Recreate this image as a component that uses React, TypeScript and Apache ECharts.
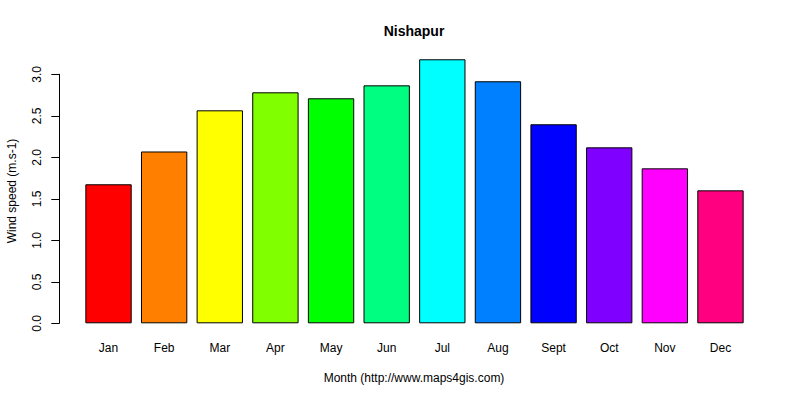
import React, { useEffect, useRef } from "react";
import * as echarts from "echarts";

const months = ["Jan", "Feb", "Mar", "Apr", "May", "Jun", "Jul", "Aug", "Sept", "Oct", "Nov", "Dec"];
const windSpeed = [1.675, 2.07, 2.566, 2.783, 2.711, 2.867, 3.181, 2.916, 2.398, 2.12, 1.867, 1.602];
const barColors = [
  "#FF0000", "#FF8000", "#FFFF00", "#80FF00", "#00FF00", "#00FF80",
  "#00FFFF", "#0080FF", "#0000FF", "#8000FF", "#FF00FF", "#FF0080",
];
const yTicks = { min: 0, max: 3, interval: 0.5 };

const FONT = "Liberation Sans, Arial, Helvetica, sans-serif";

export default function App() {
  const ref = useRef<HTMLDivElement>(null);
  useEffect(() => {
    if (!ref.current) return;
    const chart = echarts.init(ref.current, undefined, { renderer: "svg" });
    chart.setOption({
      animation: false,
      backgroundColor: "#ffffff",
      grid: { left: 80.7, right: 51.7, top: 74.3, bottom: 76.7, containLabel: false },
      xAxis: {
        type: "category",
        data: months,
        axisLine: { show: false },
        axisTick: { show: false },
        axisLabel: { color: "#000", fontFamily: FONT, fontSize: 12, margin: 19 },
      },
      yAxis: {
        type: "value",
        min: yTicks.min,
        max: yTicks.max,
        interval: yTicks.interval,
        offset: 21.4,
        splitLine: { show: false },
        axisLine: { show: true, lineStyle: { color: "#000", width: 1 } },
        axisTick: { show: true, length: 8, lineStyle: { color: "#000" } },
        axisLabel: {
          color: "#000",
          fontFamily: FONT,
          fontSize: 12,
          rotate: 90,
          margin: 16,
          formatter: (v: number) => v.toFixed(1),
        },
      },
      series: [
        {
          type: "bar",
          clip: false,
          barCategoryGap: "16.7%",
          data: windSpeed.map((v, i) => ({
            value: v,
            itemStyle: { color: barColors[i], borderColor: "#000", borderWidth: 1 },
          })),
        },
      ],
      graphic: [
        {
          type: "text",
          x: 414,
          y: 31,
          style: {
            text: "Nishapur",
            fontFamily: FONT,
            fontSize: 14,
            fontWeight: "bold",
            fill: "#000",
            align: "center",
            verticalAlign: "middle",
          },
        },
        {
          type: "text",
          x: 414,
          y: 378,
          style: {
            text: "Month (http://www.maps4gis.com)",
            fontFamily: FONT,
            fontSize: 12,
            fill: "#000",
            align: "center",
            verticalAlign: "middle",
          },
        },
        {
          type: "text",
          x: 12,
          y: 191,
          rotation: Math.PI / 2,
          style: {
            text: "Wind speed (m.s-1)",
            fontFamily: FONT,
            fontSize: 12,
            fill: "#000",
            align: "center",
            verticalAlign: "middle",
          },
        },
      ],
    });
    return () => chart.dispose();
  }, []);
  return (
    <div
      ref={ref}
      style={{ position: "absolute", left: 0, top: 0, width: 800, height: 400 }}
    />
  );
}
